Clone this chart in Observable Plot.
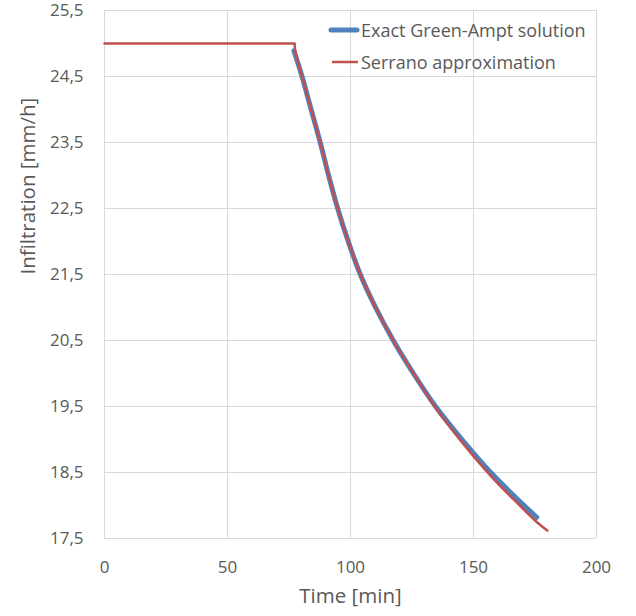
<!DOCTYPE html>
<html>
<head>
<meta charset="utf-8">
<script src="https://cdn.jsdelivr.net/npm/d3@7"></script>
<script src="https://cdn.jsdelivr.net/npm/@observablehq/plot@0.6"></script>
<style>
  html, body { margin: 0; padding: 0; background: white; }
  #wrap { position: relative; width: 636px; height: 616px; font-family: "Open Sans", sans-serif; }
  #legend { position: absolute; left: 326px; top: 14px; color: #595959; font-size: 18px; }
  #legend .item { display: flex; align-items: center; height: 32px; }
  #legend svg { margin-right: 1px; }
</style>
</head>
<body>
<div id="wrap">
  <div id="chart"></div>
  <div id="legend"></div>
</div>
<script>
// Tick values
const xTicks = [0, 50, 100, 150, 200];
const yTicks = [17.5, 18.5, 19.5, 20.5, 21.5, 22.5, 23.5, 24.5, 25.5];

// Series names and colours
const seriesNames = ["Exact Green-Ampt solution", "Serrano approximation"];
const seriesColors = ["#4F81BD", "#C0504D"];

// Exact Green-Ampt solution (time in min, infiltration in mm/h)
const gaTime = [77.0, 80.3, 84.0, 87.7, 91.1, 94.8, 99.1, 104.0, 110.2, 117.4, 125.6, 134.6, 145.3, 157.0, 166.1, 175.7];
const gaRate = [24.89, 24.5, 24.0, 23.5, 23.0, 22.5, 22.0, 21.5, 21.0, 20.5, 20.0, 19.5, 19.0, 18.5, 18.16, 17.82];

// Serrano approximation
const seTime = [0, 77.3, 77.5, 80.3, 84.0, 87.7, 91.1, 94.8, 99.1, 104.0, 110.2, 117.4, 125.6, 134.6, 145.3, 157.0, 166.1, 175.7, 180.0];
const seRate = [25.0, 25.0, 24.88, 24.5, 24.0, 23.5, 23.0, 22.5, 22.0, 21.5, 21.0, 20.5, 20.0, 19.48, 18.96, 18.45, 18.1, 17.75, 17.62];

const ga = gaTime.map((t, i) => ({t, f: gaRate[i]}));
const se = seTime.map((t, i) => ({t, f: seRate[i]}));

const fmt = d => d.toFixed(1).replace(".", ",");

const chart = Plot.plot({
  width: 636,
  height: 616,
  marginLeft: 104,
  marginRight: 40,
  marginTop: 10,
  marginBottom: 78,
  style: { fontFamily: "Open Sans, sans-serif", fontSize: "17px", color: "#595959", background: "white", overflow: "visible" },
  x: { domain: [0, 200] },
  y: { domain: [17.5, 25.5] },
  marks: [
    Plot.gridX(xTicks, { stroke: "#d9d9d9", strokeOpacity: 1 }),
    Plot.gridY(yTicks, { stroke: "#d9d9d9", strokeOpacity: 1 }),
    Plot.axisX(xTicks, { tickSize: 0, tickPadding: 22, fontSize: 17, label: null }),
    Plot.axisY(yTicks, { tickSize: 0, tickPadding: 21, fontSize: 17, tickFormat: fmt, label: null }),
    Plot.line(ga, { x: "t", y: "f", stroke: seriesColors[0], strokeWidth: 5, curve: "catmull-rom" }),
    // Serrano: constant-rate part (before ponding) straight, decay part smooth
    Plot.line(se, { filter: d => d.t <= 77.5, x: "t", y: "f", stroke: seriesColors[1], strokeWidth: 2.5, curve: "linear" }),
    Plot.line(se, { filter: d => d.t >= 77.5, x: "t", y: "f", stroke: seriesColors[1], strokeWidth: 2.5, curve: "catmull-rom" }),
    Plot.text(["Time [min]"], { frameAnchor: "bottom", dy: 64, fontSize: 20.5, fill: "#595959" }),
    Plot.text(["Infiltration [mm/h]"], { frameAnchor: "left", dx: -76, rotate: -90, fontSize: 20.5, fill: "#595959" })
  ]
});
document.getElementById("chart").appendChild(chart);

// Legend
const legend = document.getElementById("legend");
seriesNames.forEach((name, i) => {
  const item = document.createElement("div");
  item.className = "item";
  const w = i === 0 ? 5 : 2.5;
  item.innerHTML = `<svg width="34" height="10"><line x1="${i === 0 ? 5 : 6}" x2="${i === 0 ? 31 : 32}" y1="5" y2="5" stroke="${seriesColors[i]}" stroke-width="${w}" stroke-linecap="${i === 0 ? "round" : "butt"}"/></svg><span>${name}</span>`;
  legend.appendChild(item);
});
</script>
</body>
</html>
